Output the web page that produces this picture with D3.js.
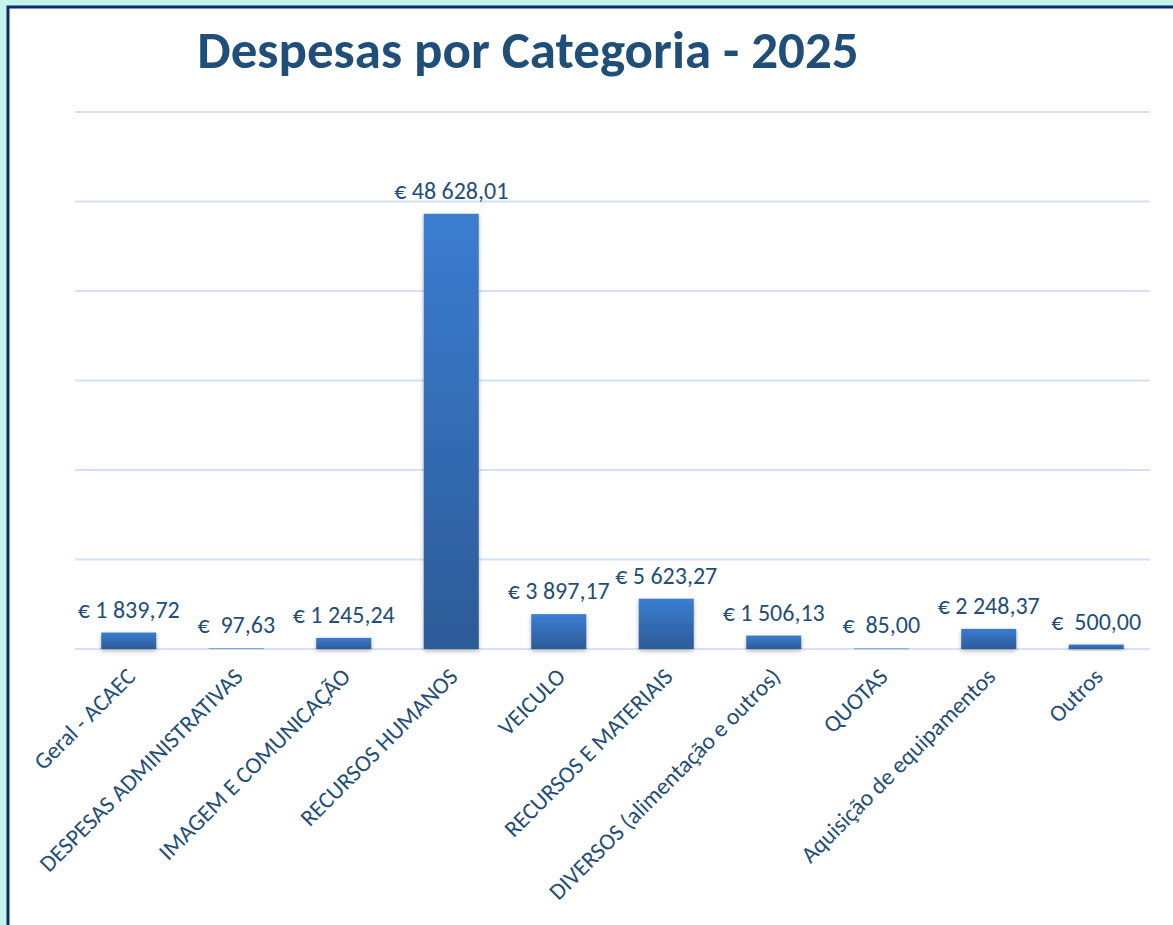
<!DOCTYPE html>
<html>
<head>
<meta charset="utf-8">
<script src="https://cdn.jsdelivr.net/npm/d3@7"></script>
<style>
  body { margin: 0; background: #c6f2ee; }
  svg { display: block; }
</style>
</head>
<body>
<div id="chart"></div>
<script>
// data
var categories = [
    "Geral - ACAEC",
    "DESPESAS ADMINISTRATIVAS",
    "IMAGEM E COMUNICAÇÃO",
    "RECURSOS HUMANOS",
    "VEICULO",
    "RECURSOS E MATERIAIS",
    "DIVERSOS (alimentação e outros)",
    "QUOTAS",
    "Aquisição de equipamentos",
    "Outros"
];
var values = [1839.72, 97.63, 1245.24, 48628.01, 3897.17, 5623.27, 1506.13, 85.00, 2248.37, 500.00];
var valueLabels = ["€ 1 839,72", "€  97,63", "€ 1 245,24", "€ 48 628,01", "€ 3 897,17",
    "€ 5 623,27", "€ 1 506,13", "€  85,00", "€ 2 248,37", "€  500,00"];
var gridTicks = [0, 10000, 20000, 30000, 40000, 50000, 60000];
var title = "Despesas por Categoria - 2025";

var width = 1173;
var height = 925;
var margin = {top: 112, right: 23, bottom: 276, left: 75};
var textColor = "#1f4e79";
var font = "Calibri, Carlito, 'Open Sans', sans-serif";

var svg = d3.select("#chart").append("svg")
    .attr("width", width)
    .attr("height", height);

var defs = svg.append("defs");
var grad = defs.append("linearGradient")
    .attr("id", "barGrad")
    .attr("x1", 0).attr("y1", 0).attr("x2", 0).attr("y2", 1);
grad.append("stop").attr("offset", "0%").attr("stop-color", "#3b7dd1");
grad.append("stop").attr("offset", "100%").attr("stop-color", "#2c5b97");

var shadow = defs.append("filter")
    .attr("id", "shadow")
    .attr("x", "-20%").attr("y", "-20%")
    .attr("width", "140%").attr("height", "160%");
shadow.append("feDropShadow")
    .attr("dx", 0).attr("dy", 2)
    .attr("stdDeviation", 2)
    .attr("flood-color", "#000")
    .attr("flood-opacity", 0.3);

// outer frame
svg.append("rect")
    .attr("x", 8).attr("y", 7)
    .attr("width", 1300).attr("height", 1100)
    .attr("fill", "#fff")
    .attr("stroke", "#0b2b6b")
    .attr("stroke-width", 3);

var x = d3.scaleBand()
    .domain(categories)
    .range([margin.left, width - margin.right])
    .paddingInner(0.488)
    .paddingOuter(0.244);

var y = d3.scaleLinear()
    .domain([0, 60000])
    .range([height - margin.bottom, margin.top]);

// title
svg.append("text")
    .attr("x", 528)
    .attr("y", 68)
    .attr("text-anchor", "middle")
    .attr("font-family", font)
    .attr("font-weight", "bold")
    .attr("font-size", 53)
    .attr("fill", textColor)
    .text(title);

// gridlines
svg.append("g")
    .attr("class", "grid")
    .selectAll("line")
    .data(gridTicks)
    .join("line")
    .attr("x1", margin.left)
    .attr("x2", width - margin.right)
    .attr("y1", function (d) { return y(d); })
    .attr("y2", function (d) { return y(d); })
    .attr("stroke", "#d6e2f3")
    .attr("stroke-width", 2);

// bars
svg.append("g")
    .selectAll("rect")
    .data(values)
    .join("rect")
    .attr("x", function (d, i) { return x(categories[i]); })
    .attr("width", x.bandwidth())
    .attr("y", function (d) { return y(d); })
    .attr("height", function (d) { return Math.max(1, y(0) - y(d)); })
    .attr("fill", function (d) { return (y(0) - y(d)) < 3 ? "#6fa2e0" : "url(#barGrad)"; })
    .attr("filter", function (d) { return (y(0) - y(d)) < 3 ? null : "url(#shadow)"; });

// value labels
svg.append("g")
    .selectAll("text")
    .data(values)
    .join("text")
    .attr("x", function (d, i) { return x(categories[i]) + x.bandwidth() / 2; })
    .attr("y", function (d) { return y(d) - 15; })
    .attr("text-anchor", "middle")
    .attr("font-family", font)
    .attr("font-size", 24)
    .attr("fill", textColor)
    .style("white-space", "pre")
    .text(function (d, i) { return valueLabels[i]; });

// category axis labels
var xAxis = d3.axisBottom(x).tickSize(0).tickPadding(0);
var gx = svg.append("g")
    .attr("transform", "translate(0," + y(0) + ")")
    .call(xAxis);
gx.select(".domain").remove();
gx.selectAll(".tick text")
    .attr("font-family", font)
    .attr("font-size", 23.5)
    .attr("fill", textColor)
    .attr("text-anchor", "end")
    .attr("dy", 0)
    .attr("transform", "translate(8,29) rotate(-45)");
</script>
</body>
</html>
